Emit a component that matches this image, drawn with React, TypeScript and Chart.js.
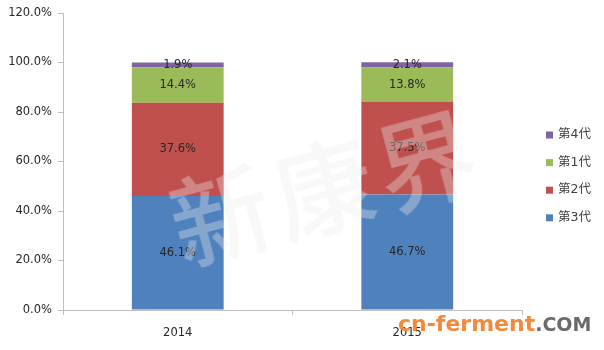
import React, { useEffect, useRef } from "react";
import { Chart, registerables } from "chart.js";

Chart.register(...registerables);

const categories = ["2014", "2015"];
const gen3 = [46.1, 46.7];
const gen2 = [37.6, 37.5];
const gen1 = [14.4, 13.8];
const gen4 = [1.9, 2.1];
const seriesNames = ["第3代", "第2代", "第1代", "第4代"];
const seriesColors = ["#4F81BD", "#C0504D", "#9BBB59", "#8064A2"];
const yTicks = [0, 20, 40, 60, 80, 100, 120];

const FONT = "'DejaVu Sans', 'Noto Sans CJK SC', sans-serif";

const dataLabelPlugin = {
  id: "dataLabels",
  afterDatasetsDraw(chart: any) {
    const ctx = chart.ctx;
    ctx.save();
    ctx.font = `11.5px ${FONT}`;
    ctx.fillStyle = "#262626";
    ctx.textAlign = "center";
    ctx.textBaseline = "middle";
    chart.data.datasets.forEach((ds: any, di: number) => {
      const meta = chart.getDatasetMeta(di);
      meta.data.forEach((el: any, i: number) => {
        const v = ds.data[i];
        const y = (el.y + el.base) / 2;
        ctx.fillText(v.toFixed(1) + "%", el.x, y);
      });
    });
    ctx.restore();
  },
};

const legendPlugin = {
  id: "rightLegend",
  afterDraw(chart: any) {
    const ctx = chart.ctx;
    ctx.save();
    ctx.font = `12.5px ${FONT}`;
    ctx.textAlign = "left";
    ctx.textBaseline = "middle";
    const ds = chart.data.datasets.slice().reverse();
    const x0 = chart.chartArea.right + 24;
    ds.forEach((d: any, i: number) => {
      const y = 135 + i * 27.6;
      ctx.fillStyle = d.backgroundColor;
      ctx.fillRect(x0, y - 3.5, 7, 7);
      ctx.fillStyle = "#404040";
      ctx.fillText(d.label, x0 + 12, y);
    });
    ctx.restore();
  },
};

export default function App() {
  const ref = useRef<HTMLCanvasElement>(null);
  useEffect(() => {
    if (!ref.current) return;
    const values = [gen3, gen2, gen1, gen4];
    const chart = new Chart(ref.current, {
      type: "bar",
      data: {
        labels: categories,
        datasets: values.map((v, i) => ({
          label: seriesNames[i],
          data: v,
          backgroundColor: seriesColors[i],
          borderWidth: 0,
          barPercentage: 0.4,
          categoryPercentage: 1,
        })),
      },
      options: {
        animation: false,
        responsive: false,
        devicePixelRatio: 1,
        layout: { padding: { top: 13, right: 82, left: 0, bottom: 0 } },
        plugins: {
          legend: { display: false },
          tooltip: { enabled: false },
        },
        scales: {
          x: {
            stacked: true,
            grid: {
              drawOnChartArea: false,
              tickLength: 5,
              color: "#BFBFBF",
              offset: true,
            },
            border: { color: "#BFBFBF" },
            ticks: {
              padding: 11,
              color: "#262626",
              font: { family: FONT, size: 11.5 },
            },
            afterFit: (s: any) => {
              s.height = 40;
            },
          },
          y: {
            stacked: true,
            min: 0,
            max: 120,
            afterBuildTicks: (s: any) => {
              s.ticks = yTicks.map((v) => ({ value: v }));
            },
            grid: {
              drawOnChartArea: false,
              tickLength: 5,
              color: "#BFBFBF",
            },
            border: { color: "#BFBFBF" },
            ticks: {
              padding: 6,
              color: "#262626",
              font: { family: FONT, size: 11.5 },
              callback: (v: any) => Number(v).toFixed(1) + "%",
            },
            afterFit: (s: any) => {
              s.width = 63;
            },
          },
        },
      },
      plugins: [dataLabelPlugin, legendPlugin],
    });
    return () => chart.destroy();
  }, []);

  return (
    <div style={{ position: "absolute", left: 0, top: 0, width: 604, height: 350, background: "#fff", overflow: "hidden" }}>
      <canvas ref={ref} width={604} height={350} style={{ display: "block" }} />
      <div
        style={{
          position: "absolute",
          left: 160,
          top: 118,
          width: 330,
          textAlign: "center",
          fontFamily: "'Noto Sans CJK SC', sans-serif",
          fontWeight: 500,
          fontSize: 100,
          lineHeight: "130px",
          letterSpacing: 6,
          color: "rgba(235,235,235,0.35)",
          transform: "rotate(-15deg)",
          transformOrigin: "50% 50%",
          pointerEvents: "none",
          whiteSpace: "nowrap",
        }}
      >
        新康界
      </div>
      <div
        style={{
          position: "absolute",
          left: 398,
          top: 311,
          fontFamily: "'DejaVu Sans', sans-serif",
          fontWeight: "bold",
          fontSize: 22,
          lineHeight: "26px",
          whiteSpace: "nowrap",
        }}
      >
        <span style={{ color: "#F5893A" }}>cn-ferment</span>
        <span style={{ color: "#6B6B6B", fontSize: 19 }}>.COM</span>
      </div>
    </div>
  );
}
